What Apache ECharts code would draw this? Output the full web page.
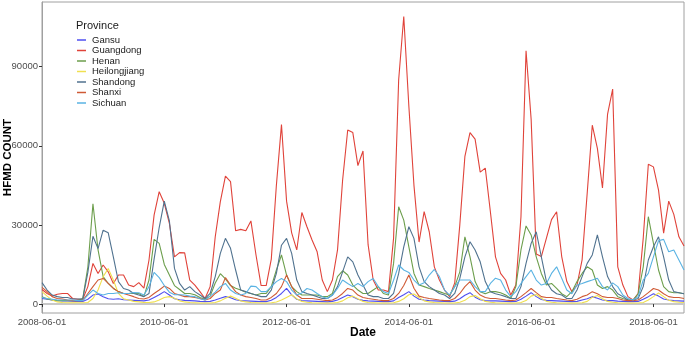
<!DOCTYPE html>
<html>
<head>
<meta charset="utf-8">
<script src="https://cdn.jsdelivr.net/npm/echarts@6/dist/echarts.min.js"></script>
<style>html,body{margin:0;padding:0;background:#fff}#chart{width:685px;height:338px}</style>
</head>
<body>
<div id="chart"></div>
<script>
// monthly dates, 2008-06-01 .. 2018-12-01
const dates = [];
for (let y = 2008, m = 6; y < 2019; m++) {
    if (m > 12) { m = 1; y++; }
    if (y === 2019) break;
    dates.push(y + '-' + String(m).padStart(2, '0') + '-01');
}

const yTicks = [0, 30000, 60000, 90000];
const provinces = ['Gansu', 'Guangdong', 'Henan', 'Heilongjiang', 'Shandong', 'Shanxi', 'Sichuan'];
const colors = ['#4f4ff0', '#e0433a', '#6c9e4c', '#f0e050', '#50728f', '#cf5a35', '#5ab3e3'];

// one row per year, June .. May
const gansu = [
    2100, 1800, 1500, 1300, 1200, 1200, 1100, 1000, 1000, 1800, 3400, 3800,
    2800, 2000, 1800, 2000, 1600, 1500, 1400, 1300, 1200, 1500, 2500, 3500,
    4700, 3400, 2000, 1600, 1400, 1300, 1200, 1000, 900, 1000, 1500, 2200,
    2800, 2400, 1600, 1300, 1200, 1100, 1000, 900, 900, 1400, 2500, 4000,
    5900, 3500, 1800, 1300, 1200, 1100, 1000, 900, 800, 1000, 1500, 2500,
    3400, 2800, 1800, 1400, 1200, 1100, 1000, 900, 900, 1200, 2500, 3500,
    4700, 3000, 1800, 1500, 1300, 1200, 1100, 1000, 900, 1100, 2000, 3300,
    4300, 2600, 1600, 1300, 1200, 1200, 1100, 1000, 900, 1000, 1800, 3000,
    4300, 2800, 1700, 1400, 1300, 1200, 1100, 1000, 900, 1000, 1500, 2000,
    2800, 2200, 1500, 1300, 1300, 1100, 1000, 900, 900, 1000, 1800, 2800,
    3900, 3000, 1900, 1500, 1300, 1200, 1100
];
const guangdong = [
    5500, 4000, 3000, 3700, 4000, 4000, 2100, 1800, 1800, 6600, 15400, 11600,
    14800, 12200, 7800, 11000, 11000, 7200, 6600, 8100, 6000, 16700, 33700, 42600,
    38200, 30600, 17900, 19500, 19400, 9100, 7200, 4700, 2100, 6600, 25500, 38800,
    48500, 46400, 27800, 28300, 27800, 31500, 18600, 7000, 7000, 17000, 45000, 68000,
    39000, 27000, 20500, 34700, 29300, 24300, 19800, 9100, 4700, 9100, 20500, 47000,
    66000, 65000, 52500, 58000, 22500, 9100, 5300, 5300, 4700, 25000, 85000, 109000,
    75000, 45000, 23500, 35000, 27400, 14100, 9100, 5300, 2800, 8000, 30000, 56000,
    65000, 62500, 50000, 51500, 35000, 17900, 11600, 9100, 3400, 7200, 33000, 96000,
    70000, 19000, 18000, 25000, 32000, 35000, 18000, 8500, 4700, 7200, 16700, 42000,
    67800, 59000, 44000, 72000, 81500, 14100, 7200, 2800, 1500, 4000, 25000, 53000,
    52000, 43200, 26900, 39000, 34000, 25500, 22000
];
const henan = [
    2800, 1900, 1500, 1300, 1300, 1300, 1300, 1300, 2100, 14000, 38000, 20500,
    10400, 7800, 6000, 4700, 4000, 4000, 4000, 4000, 2800, 9100, 24500, 23000,
    15000, 11000, 7000, 5500, 4000, 4000, 3500, 2500, 1800, 3000, 8000, 11500,
    9500, 7000, 6000, 5300, 4500, 4000, 3400, 4000, 4000, 6600, 12900, 18600,
    11000, 6600, 4700, 3400, 3400, 3400, 3400, 2800, 2800, 4000, 10400, 12600,
    11000, 7200, 5300, 4000, 4000, 5300, 6600, 4000, 3400, 15400, 36900, 31800,
    21700, 11600, 7200, 6600, 5900, 5300, 4700, 4000, 3400, 6600, 12200, 25500,
    17900, 8500, 4700, 3900, 4700, 4700, 4300, 3400, 2100, 6600, 20500, 29600,
    26200, 17900, 11600, 7200, 7800, 5900, 3900, 2800, 4700, 8500, 11600, 14100,
    12900, 7200, 5900, 6600, 5300, 2800, 2100, 1500, 1500, 3900, 14100, 33100,
    23000, 12900, 6600, 4700, 4300, 4300, 3900
];
const heilongjiang = [
    4700, 3000, 1500, 800, 600, 500, 500, 500, 500, 600, 2100, 5300,
    10400, 13500, 9100, 4000, 2000, 1500, 1000, 800, 600, 600, 800, 1500,
    2500, 2800, 2200, 1200, 800, 600, 500, 400, 400, 400, 600, 1200,
    2200, 3000, 2200, 1200, 800, 600, 500, 400, 400, 500, 800, 1500,
    2500, 3500, 2000, 1000, 700, 500, 400, 400, 400, 400, 600, 1200,
    2400, 3000, 2000, 1000, 600, 500, 400, 400, 400, 500, 1000, 2000,
    3500, 3800, 2500, 1200, 800, 600, 500, 400, 400, 400, 700, 1400,
    2800, 3200, 2000, 1000, 700, 500, 400, 400, 400, 400, 600, 1300,
    3000, 3600, 2200, 1000, 700, 500, 400, 400, 400, 400, 500, 1000,
    2500, 3200, 2000, 1000, 700, 500, 400, 400, 400, 400, 600, 1500,
    2800, 4200, 2800, 1400, 900, 700, 600
];
const shandong = [
    8100, 5300, 3400, 2800, 2500, 2500, 1900, 1900, 1900, 12000, 25700, 21000,
    28000, 27000, 17900, 8500, 5900, 5300, 4000, 3400, 2800, 4000, 17000, 29000,
    39000, 31500, 13500, 7800, 5300, 6600, 4700, 3400, 2100, 4000, 10400, 19200,
    24900, 21100, 12900, 5300, 4700, 4000, 3400, 2800, 2800, 5300, 11600, 22300,
    24900, 19200, 9100, 4700, 4000, 3400, 2800, 2100, 2100, 3400, 6600, 12200,
    17900, 16000, 11000, 7200, 3400, 2800, 2800, 2100, 2100, 4000, 11600, 21700,
    29300, 24900, 14100, 8500, 6600, 5300, 4000, 3400, 2100, 4000, 9700, 17900,
    23600, 20500, 16000, 8500, 4700, 3900, 3400, 2800, 2100, 2100, 6600, 15400,
    23000, 27400, 17900, 8500, 5300, 3900, 3400, 2100, 2100, 5300, 10400, 15400,
    18600, 26200, 17900, 10400, 6600, 3900, 2800, 1500, 1500, 2100, 6600, 16700,
    21700, 25500, 17900, 9100, 4700, 4300, 3900
];
const shanxi = [
    6300, 4700, 2800, 2100, 1900, 1500, 1300, 1300, 1300, 4000, 6600, 9100,
    9700, 7800, 5900, 4700, 4000, 3400, 2800, 2100, 1900, 2500, 4000, 5300,
    6800, 5900, 4000, 3400, 2800, 2800, 2500, 2100, 1500, 2100, 4000, 5300,
    10000, 7200, 4700, 3400, 2800, 2500, 2100, 1500, 1500, 2500, 4000, 6600,
    11000, 6600, 3400, 2100, 2100, 2100, 1800, 1500, 1300, 1500, 2500, 4000,
    5900, 5300, 3400, 2500, 2100, 1800, 1500, 1300, 1300, 2100, 4000, 7000,
    11000, 6000, 3000, 2500, 2100, 1800, 1500, 1300, 1300, 2100, 4000, 6600,
    8500, 5300, 3400, 2500, 2100, 2100, 1800, 1500, 1300, 1500, 2800, 4300,
    5900, 4300, 2800, 2500, 2500, 2100, 1800, 1500, 1300, 1800, 2800, 3400,
    4700, 3900, 2800, 2500, 2500, 2100, 1500, 1300, 1300, 1500, 2800, 4300,
    5900, 5300, 3900, 2800, 2500, 2500, 2100
];
const sichuan = [
    2500, 2100, 1800, 1500, 1500, 1500, 1500, 1300, 1300, 3400, 5300, 4000,
    3400, 4000, 4000, 4300, 4000, 4000, 4400, 4300, 3400, 6600, 12000, 10000,
    7000, 4500, 3500, 3500, 3400, 3000, 2800, 2000, 1500, 3000, 4500, 6600,
    7800, 5300, 4000, 3400, 4000, 6800, 6600, 4700, 4700, 6600, 8500, 9700,
    8500, 5300, 3400, 4200, 5900, 5300, 4000, 2800, 2100, 3400, 5900, 9100,
    7800, 6600, 7800, 6600, 8500, 9700, 6600, 4700, 4000, 9000, 14800, 12900,
    12000, 9100, 7200, 8100, 11000, 13100, 10400, 5300, 3400, 6600, 9100, 9100,
    9100, 6600, 4700, 4700, 7800, 9800, 9100, 5300, 2800, 4700, 7800, 10400,
    12900, 9100, 7200, 7800, 11600, 14100, 9800, 5300, 3900, 7200, 7800, 8500,
    9100, 9800, 6600, 5300, 8000, 6600, 3400, 2100, 1500, 2800, 9100, 11600,
    17900, 24000, 24500, 19800, 20500, 16700, 12900
];
const seriesData = [gansu, guangdong, henan, heilongjiang, shandong, shanxi, sichuan];

const chart = echarts.init(document.getElementById('chart'));
const font = 'Liberation Sans, Arial, sans-serif';

const option = {
    animation: false,
    textStyle: { fontFamily: font },
    title: {
        text: 'Province',
        left: 76,
        top: 20,
        padding: 0,
        textStyle: { fontSize: 11, fontWeight: 'normal', color: '#1a1a1a', fontFamily: font }
    },
    legend: {
        data: provinces,
        orient: 'vertical',
        left: 77,
        top: 35,
        padding: 0,
        itemWidth: 9,
        itemHeight: 1.5,
        itemGap: 0.5,
        icon: 'rect',
        textStyle: { fontSize: 9.5, color: '#1a1a1a', fontFamily: font, padding: [0, 0, 0, 1] }
    },
    grid: {
        left: 42,
        right: 1,
        top: 2,
        bottom: 25,
        outerBoundsMode: 'none',
        containLabel: false,
        show: true,
        borderColor: '#a0a0a0',
        borderWidth: 1
    },
    xAxis: {
        type: 'category',
        data: dates,
        boundaryGap: false,
        name: 'Date',
        nameLocation: 'middle',
        nameGap: 14,
        nameMoveOverlap: false,
        nameTextStyle: { fontSize: 12, fontWeight: 'bold', color: '#000', fontFamily: font },
        axisLine: { lineStyle: { color: '#c8c8c8', width: 2 } },
        axisTick: {
            length: 3,
            interval: function (i) { return i % 24 === 0; },
            lineStyle: { color: '#333' }
        },
        axisLabel: {
            fontSize: 9.5,
            color: '#4d4d4d',
            margin: 4,
            interval: function (i) { return i % 24 === 0; }
        },
        splitLine: { show: false }
    },
    yAxis: {
        type: 'value',
        min: -3400,
        max: 114500,
        name: 'HFMD COUNT',
        nameLocation: 'middle',
        nameGap: 28,
        nameMoveOverlap: false,
        nameTextStyle: { fontSize: 11.5, fontWeight: 'bold', color: '#000', fontFamily: font },
        axisLine: { show: true, lineStyle: { color: '#a0a0a0', width: 1 } },
        axisTick: { show: true, length: 3, customValues: yTicks, lineStyle: { color: '#333' } },
        axisLabel: {
            fontSize: 9.5,
            color: '#4d4d4d',
            margin: 4,
            customValues: yTicks,
            formatter: function (v) { return String(v); }
        },
        splitLine: { show: false }
    },
    series: provinces.map(function (p, k) {
        return {
            name: p,
            type: 'line',
            data: seriesData[k],
            symbol: 'none',
            showSymbol: false,
            color: colors[k],
            lineStyle: { width: 1.1, color: colors[k] }
        };
    })
};

chart.setOption(option);
</script>
</body>
</html>
